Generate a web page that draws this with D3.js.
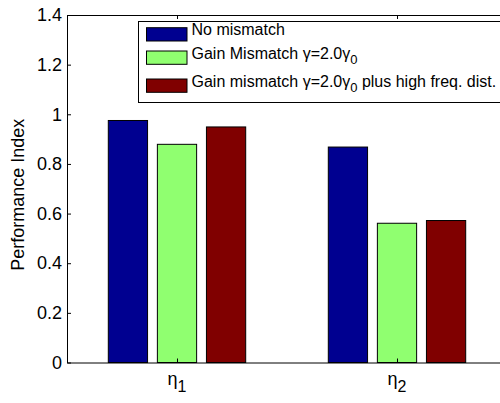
<!DOCTYPE html>
<html><head><meta charset="utf-8">
<script src="https://cdn.jsdelivr.net/npm/d3@7"></script>
<style>body{margin:0;background:#fff;} svg{display:block;font-family:"Liberation Sans",Arial,sans-serif;}</style>
</head><body>
<svg id="c" width="500" height="403"></svg>
<script>
const categories = ["1", "2"];           // subscripts of η
const series = ["No mismatch", "Gain Mismatch", "Gain mismatch plus"];
const seriesLabels = [
  [{t:"No mismatch"}],
  [{t:"Gain Mismatch γ=2.0γ"},{t:"0",sub:true}],
  [{t:"Gain mismatch γ=2.0γ"},{t:"0",sub:true},{t:" plus high freq. dist."}]
];
const noMismatch = [0.975, 0.868];
const gainMismatch = [0.879, 0.561];
const gainMismatchHF = [0.949, 0.572];
const yTicks = [0, 0.2, 0.4, 0.6, 0.8, 1, 1.2, 1.4];
const colors = ["#000090", "#90FF70", "#800000"];

const values = [noMismatch, gainMismatch, gainMismatchHF];
const svg = d3.select("#c");
const L = 67, R = 507, T = 15, B = 362.5;
const x = d3.scaleLinear().domain([0.5, 2.5]).range([L, R]);
const y = d3.scaleLinear().domain([0, 1.4]).range([B, T]);
const sub = d3.scaleBand().domain(series).range([-68.7, 68.7]).paddingInner(0.2).paddingOuter(0);

// bars
categories.forEach((c, ci) => {
  series.forEach((s, si) => {
    const v = values[si][ci];
    svg.append("rect")
      .attr("x", x(ci + 1) + sub(s))
      .attr("y", y(v))
      .attr("width", sub.bandwidth())
      .attr("height", y(0) - y(v))
      .attr("fill", colors[si])
      .attr("stroke", "#000").attr("stroke-width", 1);
  });
});

// axes
const yAxis = d3.axisLeft(y).tickValues(yTicks).tickSizeInner(-4).tickSizeOuter(0).tickPadding(5)
  .tickFormat(d => d3.format("")(+d.toFixed(1)));
const gy = svg.append("g").attr("transform", `translate(${L},0)`).call(yAxis);
gy.select(".domain").attr("stroke", "#000");
gy.selectAll("text").attr("font-size", 18).attr("fill", "#000").attr("font-family", "Liberation Sans, Arial, sans-serif");

const xAxisB = d3.axisBottom(x).tickValues([1, 2]).tickSizeInner(-4).tickSizeOuter(0).tickFormat("");
svg.append("g").attr("transform", `translate(0,${B})`).call(xAxisB).select(".domain").attr("stroke", "#000");
const xAxisT = d3.axisTop(x).tickValues([1, 2]).tickSizeInner(-4).tickSizeOuter(0).tickFormat("");
svg.append("g").attr("transform", `translate(0,${T})`).call(xAxisT).select(".domain").attr("stroke", "#000");

// x tick labels η_i
categories.forEach((c, ci) => {
  const t = svg.append("text").attr("x", x(ci + 1)).attr("y", 385)
    .attr("text-anchor", "middle").attr("font-size", 18).attr("fill", "#000");
  t.append("tspan").text("η");
  t.append("tspan").attr("dy", 7).attr("font-size", 16).text(c);
});

// y label
svg.append("text").attr("transform", `translate(24,${(T + B) / 2 + 6}) rotate(-90)`)
  .attr("text-anchor", "middle").attr("font-size", 18).attr("fill", "#000").text("Performance Index");

// legend
const lg = svg.append("g");
lg.append("rect").attr("x", 138.5).attr("y", 21.5).attr("width", 380).attr("height", 81)
  .attr("fill", "#fff").attr("stroke", "#000").attr("stroke-width", 1);
const rowsY = [27.7, 51, 79];
series.forEach((s, si) => {
  lg.append("rect").attr("x", 146.5).attr("y", rowsY[si]).attr("width", 40.5).attr("height", 13.3)
    .attr("fill", colors[si]).attr("stroke", "#000").attr("stroke-width", 1);
  const t = lg.append("text").attr("x", 191.5).attr("y", rowsY[si] + 12.5)
    .attr("font-size", 16).attr("fill", "#000");
  seriesLabels[si].forEach(p => {
    if (p.sub) t.append("tspan").attr("dy", 5).attr("font-size", 13).text(p.t);
    else t.append("tspan").attr("dy", t.selectAll("tspan").size() ? -5 : 0).text(p.t);
  });
});
</script>
</body></html>
